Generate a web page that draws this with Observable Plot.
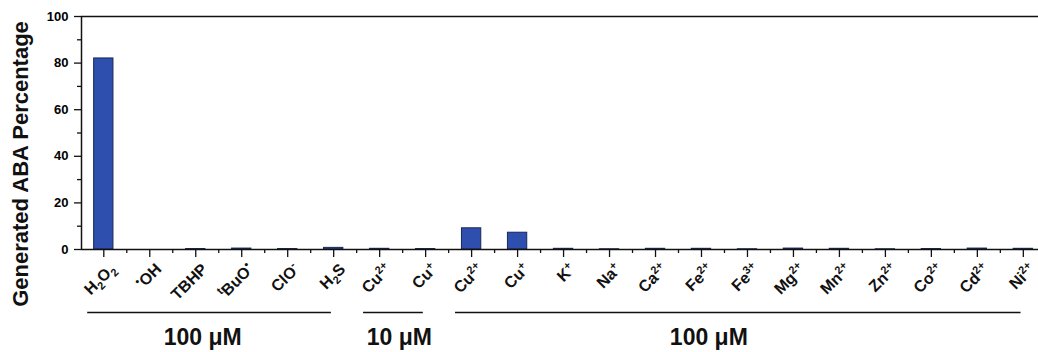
<!DOCTYPE html>
<html>
<head>
<meta charset="utf-8">
<script src="https://cdn.jsdelivr.net/npm/d3@7"></script>
<script src="https://cdn.jsdelivr.net/npm/@observablehq/plot@0.6"></script>
<style>
  html, body { margin: 0; padding: 0; background: #fff; }
  #chart svg { display: block; font-family: Arial, "Liberation Sans", sans-serif; }
</style>
</head>
<body>
<div id="chart"></div>
<script>
// Category labels (markup: _{sub}, ^{sup})
const categories = [
  "H_{2}O_{2}", "^{•}OH", "TBHP", "^{t}BuO^{•}", "ClO^{-}", "H_{2}S",
  "Cu^{2+}", "Cu^{+}",
  "Cu^{2+}", "Cu^{+}", "K^{+}", "Na^{+}", "Ca^{2+}", "Fe^{2+}", "Fe^{3+}",
  "Mg^{2+}", "Mn^{2+}", "Zn^{2+}", "Co^{2+}", "Cd^{2+}", "Ni^{2+}"
];
// Generated ABA percentage for each category
const values = [
  82.0, 0.0, 0.2, 0.4, 0.2, 0.7,
  0.3, 0.2,
  9.1, 7.2, 0.3, 0.1, 0.3, 0.3, 0.1,
  0.4, 0.3, 0.1, 0.2, 0.4, 0.3
];
// Concentration groups (category index ranges)
const groupLabels = ["100 μM", "10 μM", "100 μM"];
const groupFrom = [0, 6, 8];
const groupTo = [5, 7, 20];
const yTicks = [0, 20, 40, 60, 80, 100];
const yMinorTicks = [10, 30, 50, 70, 90];
const yLabel = "Generated ABA Percentage";

const data = categories.map((c, i) => ({i, label: c, value: values[i]}));
const groups = groupLabels.map((g, k) => ({label: g, from: groupFrom[k], to: groupTo[k]}));

const plainText = s => s.replace(/[_^]\{([^}]*)\}/g, "$1");

const xMin = -0.485, xMax = 20.33;
const font = 'Arial, "Liberation Sans", sans-serif';
const LBL_DX = 9, LBL_DY = 17;
const C45 = Math.SQRT1_2;

function richLabels(index, scales, vals, dims, context, next) {
  const g = next(index, scales, vals, dims, context);
  const texts = Array.from(g.querySelectorAll("text"));
  texts.forEach((t, j) => {
    const i = index[j];
    const raw = data[i].label;
    const el = d3.select(t);
    el.text(null);
    const re = /([_^])\{([^}]*)\}|([^_^]+)/g;
    let m, shift = 0;
    while ((m = re.exec(raw)) !== null) {
      if (m[3]) {
        el.append("tspan").attr("dy", -shift).text(m[3]);
        shift = 0;
      } else {
        const s = m[1] === "^" ? -6 : 4;
        el.append("tspan").attr("dy", s - shift).attr("font-size", 11).text(m[2]);
        shift = s;
      }
    }
    const tx = vals.x[i] + LBL_DX, ty = vals.y[i] + LBL_DY;
    t.setAttribute("text-anchor", "end");
    t.setAttribute("transform", `matrix(${C45},${-C45},${C45},${C45},${tx},${ty})`);
  });
  return g;
}

const chart = Plot.plot({
  width: 1038,
  height: 352,
  marginLeft: 81,
  marginRight: 0,
  marginTop: 16,
  marginBottom: 103,
  style: {fontFamily: font, background: "#fff", overflow: "visible"},
  x: {type: "linear", domain: [xMin, xMax], axis: null},
  y: {domain: [0, 100], axis: null},
  marks: [
    Plot.rect(data, {
      x1: d => d.i - 0.21, x2: d => d.i + 0.21,
      y1: () => 0, y2: "value",
      fill: "#2f4fae", stroke: "#1a2757", strokeWidth: 1
    }),
    // frame lines
    Plot.ruleY([0, 100], {stroke: "#111", strokeWidth: 1.5}),
    Plot.ruleX([xMin], {stroke: "#111", strokeWidth: 1.5}),
    // y axis
    Plot.axisY({ticks: yTicks, tickSize: 7, tickPadding: 6, tickFormat: d => d,
      fontSize: 13, fontWeight: "bold", stroke: "#111", strokeWidth: 1.3, label: null}),
    Plot.axisY({ticks: yMinorTicks, tickSize: 4, tickFormat: () => "",
      stroke: "#111", strokeWidth: 1.3, label: null}),
    // x axis ticks
    Plot.axisX({ticks: d3.range(categories.length), tickSize: 8, tickFormat: () => "",
      stroke: "#111", strokeWidth: 1.3, label: null}),
    Plot.axisX({ticks: d3.range(0.5, categories.length - 1, 1), tickSize: 4, tickFormat: () => "",
      stroke: "#111", strokeWidth: 1.3, label: null}),
    // x tick labels (rotated, with sub/superscripts)
    Plot.text(data, {
      x: "i", y: () => 0, text: d => plainText(d.label),
      textAnchor: "end",
      fontSize: 16, fontWeight: "bold", fill: "#111", render: richLabels
    }),
    // group lines & labels
    Plot.ruleY(groups, {
      x1: d => d.from - 0.35, x2: d => d.to - 0.05, y: () => 0, dy: 63,
      stroke: "#111", strokeWidth: 1.5
    }),
    Plot.text(groups, {
      x: d => (d.from + d.to) / 2 - (d.to - d.from) * 0.07, y: () => 0, dy: 88,
      text: "label", fontSize: 23, fontWeight: "bold", fill: "#111"
    }),
    // y axis title
    Plot.text([yLabel], {
      frameAnchor: "left", textAnchor: "middle", dx: -61, dy: 31, rotate: -90,
      fontSize: 22, fontWeight: "bold", fill: "#111"
    })
  ]
});

document.getElementById("chart").appendChild(chart);
</script>
</body>
</html>
